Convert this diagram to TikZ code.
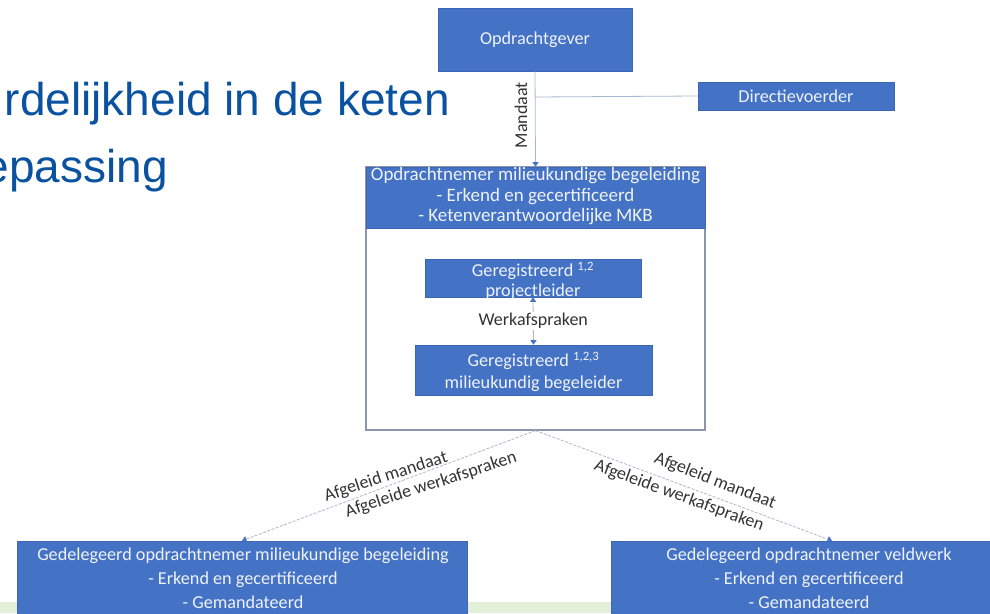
\documentclass[tikz,border=0pt]{standalone}
\usepackage{fontspec}
\setmainfont{Carlito}
\newfontfamily\titlefont{Liberation Sans}
\usetikzlibrary{arrows.meta}
\definecolor{boxblue}{HTML}{4472C4}
\definecolor{boxedge}{HTML}{3C66B4}
\definecolor{titleblue}{HTML}{0A52A0}
\definecolor{linegrey}{HTML}{A9B8D0}
\definecolor{framegrey}{HTML}{8C96A8}
\definecolor{txtwhite}{HTML}{EEF2FA}
\definecolor{stripgreen}{HTML}{E2EFD9}
\begin{document}
\begin{tikzpicture}[x=1pt,y=-1pt,
  bluebox/.style={draw=boxedge, line width=0.6pt, fill=boxblue, inner sep=0pt},
  boxtext/.style={text=txtwhite, font=\fontsize{18.2}{20}\selectfont, align=center, inner sep=0pt},
  conn/.style={draw=linegrey, line width=0.8pt},
  dconn/.style={draw=linegrey, line width=0.8pt, dash pattern=on 3pt off 1.5pt},
  bluetip/.style={-{Triangle[width=6pt,length=4.5pt,fill=boxblue,color=boxblue]}},
  bothtips/.style={{Triangle[width=6pt,length=4.5pt,fill=boxblue,color=boxblue]}-{Triangle[width=6pt,length=4.5pt,fill=boxblue,color=boxblue]}},
  lbl/.style={font=\fontsize{18}{20}\selectfont, text=black!80, inner sep=1pt},
  titletext/.style={font=\titlefont\fontsize{46}{50}\selectfont, text=titleblue, inner sep=0pt}
]
\useasboundingbox (0,0) rectangle (990,613);
\clip (0,0) rectangle (990,613);

% green strip
\fill[stripgreen] (0,602) rectangle (990,613);

% title fragments
\node[titletext, anchor=base east] (t1) at (450,115) {rdelijkheid in de keten};
\node[titletext, anchor=base east] (t2) at (168,182) {epassing};

% top boxes
\node[bluebox, minimum width=194pt, minimum height=63pt] (og) at (535,39.5) {};
\node[boxtext] (ogt) at (535,40) {Opdrachtgever};
\node[bluebox, minimum width=196pt, minimum height=28pt] (dv) at (796,96) {};
\node[boxtext] (dvt) at (796,96.5) {Directievoerder};

% big frame with header
\node[draw=framegrey, line width=1.2pt, fill=white, minimum width=339pt, minimum height=263pt, inner sep=0pt] (fr) at (535.5,298.5) {};
\node[bluebox, minimum width=339pt, minimum height=61pt] (hd) at (535.5,197.5) {};
\node[boxtext, font=\fontsize{19}{20.5}\selectfont] (hdt) at (535.5,196.5) {Opdrachtnemer milieukundige begeleiding\\- Erkend en gecertificeerd\\- Ketenverantwoordelijke MKB};

% inner boxes
\node[bluebox, minimum width=216pt, minimum height=38pt] (pl) at (533,278) {};
\node[boxtext] (plt) at (533,281) {Geregistreerd \textsuperscript{1,2}\\projectleider};
\node[bluebox, minimum width=237pt, minimum height=50pt] (mb) at (533.5,370) {};
\node[boxtext, font=\fontsize{18.2}{22}\selectfont] (mbt) at (533.5,372) {Geregistreerd \textsuperscript{1,2,3}\\milieukundig begeleider};

% bottom boxes
\node[bluebox, minimum width=450pt, minimum height=98pt] (lb) at (242,590) {};
\node[boxtext, font=\fontsize{18.2}{24}\selectfont] (lbt) at (243,578) {Gedelegeerd opdrachtnemer milieukundige begeleiding\\- Erkend en gecertificeerd\\- Gemandateerd};
\node[bluebox, minimum width=442pt, minimum height=98pt] (rb) at (832,590) {};
\node[boxtext, font=\fontsize{18.2}{24}\selectfont] (rbt) at (809,578) {Gedelegeerd opdrachtnemer veldwerk\\- Erkend en gecertificeerd\\- Gemandateerd};

% connectors
\coordinate (mj) at (535,97);
\draw[conn, bluetip] (og.south) -- (hd.north);
\draw[conn] (mj) -- (dv.west);
\node[lbl, rotate=90] (md) at (521,115) {Mandaat};

\draw[conn, bothtips] (pl.south) -- (mb.north)
  node[midway, fill=white, lbl] (wa) {Werkafspraken};

\draw[dconn, bluetip] (fr.south) -- (lb.north);
\draw[dconn, bluetip] (fr.south) -- (rb.north);

% connector labels
\node[lbl, rotate=18] (lm) at (386,477) {Afgeleid mandaat};
\node[lbl, rotate=18] (lw) at (431,485) {Afgeleide werkafspraken};
\node[lbl, rotate=-21] (rm) at (715,481) {Afgeleid mandaat};
\node[lbl, rotate=-20] (rw) at (679,496) {Afgeleide werkafspraken};
\end{tikzpicture}
\end{document}
